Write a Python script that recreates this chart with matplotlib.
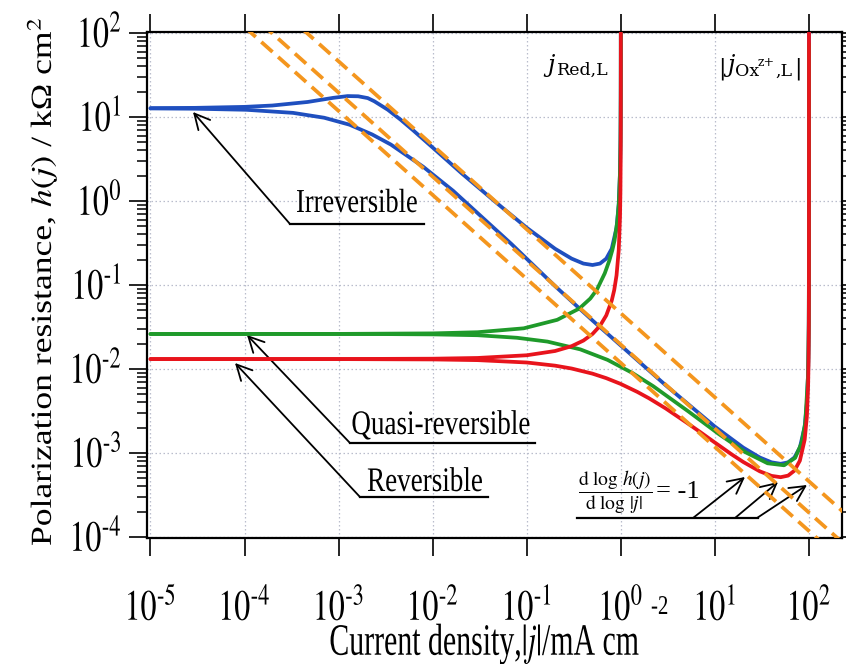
import matplotlib
matplotlib.use("Agg")
import matplotlib.pyplot as plt
from matplotlib.lines import Line2D
from matplotlib.patheffects import AbstractPathEffect
from matplotlib.transforms import Affine2D
from matplotlib.ticker import NullFormatter

# ---------------- data ----------------
# Irreversible, anodic branch (towards j_Red,L)
j_irr_a = [1e-5, 3e-5, 1e-4, 1.97e-4, 4.68e-4, 8.74e-4, 1.247e-3, 1.614e-3, 2.04e-3,
           2.393e-3, 3.337e-3, 4.558e-3, 6.18e-3, 8.355e-3, 1.128e-2, 2.057e-2, 5e-2,
           0.1, 0.2, 0.3, 0.4, 0.5, 0.6, 0.7, 0.8, 0.9, 0.95, 0.98, 0.99, 0.995,
           0.998, 0.999, 0.9995, 0.9998]
h_irr_a = [12.75, 12.85, 13.2, 13.7, 15.1, 16.9, 17.75, 17.65, 16.8,
           15.4, 12.2, 9.3, 6.96, 5.17, 3.84, 2.11, 0.91,
           0.48, 0.27, 0.206, 0.18, 0.173, 0.18, 0.206, 0.27, 0.48, 0.91, 2.2, 4.37, 8.7,
           21.7, 43.0, 87.0, 217.0]

# Irreversible, cathodic branch (towards |j_Ox,L|)
j_irr_c = [1e-5, 3e-5, 1.045e-4, 3.28e-4, 7.03e-4, 1.304e-3, 2.27e-3, 3.59e-3, 7.95e-3,
           1.653e-2, 6.82e-2, 0.2, 0.5, 1, 3, 10, 20, 30, 40, 50, 60, 70, 80, 90, 95,
           98, 99, 99.5, 99.8, 99.9, 99.95, 99.98, 99.99, 99.995, 99.998, 99.9995, 99.9999]
h_irr_c = [12.65, 12.55, 12.19, 11.2, 9.8, 8.1, 6.2, 4.7, 2.55,
           1.32, 0.31, 0.097, 0.0378, 0.019, 0.0064, 0.00206, 0.00116, 0.000884,
           0.000774, 0.000743, 0.000774, 0.000884, 0.00116, 0.00206, 0.0039,
           0.0095, 0.0188, 0.0373, 0.0931, 0.186, 0.371, 0.929, 1.857, 3.71, 9.29, 37.0, 186.0]

# Quasi-reversible, anodic branch
j_qr_a = [1e-5, 1e-3, 1e-2, 3e-2, 0.0929, 0.2108, 0.3624, 0.4737, 0.5578, 0.6753,
          0.7543, 0.812, 0.856, 0.9165, 0.9526, 0.9802, 0.9918, 0.99753, 0.99925, 0.99959]
h_qr_a = [0.0261, 0.02617, 0.02654, 0.0274, 0.0305, 0.0385, 0.0525, 0.0690, 0.0884,
          0.1381, 0.1953, 0.26, 0.337, 0.566, 0.958, 2.23, 5.35, 17.5, 58.0, 106.0]

# Quasi-reversible, cathodic branch
j_qr_c = [1e-5, 1e-3, 3e-3, 1e-2, 3e-2, 0.0786, 0.166, 0.371, 0.723, 1.332, 2.206, 5.214,
          11.01, 21.16, 36.31, 54.42, 71.24, 83.6, 91.26, 97.74, 99.44, 99.932, 99.9917,
          99.999, 99.99975]
h_qr_c = [0.0261, 0.02611, 0.02604, 0.02583, 0.02524, 0.02354, 0.02119, 0.01712, 0.01284,
          0.00895, 0.00625, 0.00313, 0.00168, 0.00102, 0.000754, 0.000714, 0.000874,
          0.00132, 0.00228, 0.0084, 0.0334, 0.274, 2.23, 18.2, 74.0]

# Reversible, anodic branch
j_rev_a = [1e-5, 1e-3, 0.01, 0.03, 0.1, 0.2, 0.3, 0.4, 0.5, 0.6, 0.7, 0.8, 0.85, 0.9,
           0.95, 0.98, 0.99, 0.995, 0.998, 0.999, 0.9995, 0.9998, 0.9999]
h_rev_a = [0.01313, 0.01314, 0.01326, 0.01353, 0.01457, 0.01638, 0.0187, 0.0218, 0.02613,
           0.03263, 0.04346, 0.06513, 0.0868, 0.1301, 0.2601, 0.6501, 1.3, 2.6, 6.5, 13.0,
           26.0, 65.0, 130.0]

# Reversible, cathodic branch
j_rev_c = [1e-5, 1e-3, 0.01, 0.03, 0.1, 0.2, 0.3, 0.5, 0.7, 1, 1.5, 2, 3, 5, 7, 10, 15, 20,
           30, 40, 50, 60, 70, 80, 90, 95, 98, 99, 99.5, 99.8, 99.9, 99.95, 99.98, 99.99,
           99.995, 99.998, 99.999, 99.9995, 99.9998, 99.9999]
h_rev_c = [0.01313, 0.01312, 0.013, 0.01275, 0.01195, 0.01096, 0.01013, 0.0088, 0.00778,
           0.00663, 0.00533, 0.00447, 0.00339, 0.0023, 0.00177, 0.00133, 0.000966, 0.000782,
           0.000605, 0.000534, 0.000515, 0.000538, 0.000616, 0.00081, 0.00144, 0.00273,
           0.00663, 0.0131, 0.0261, 0.0651, 0.13, 0.26, 0.65, 1.3, 2.6, 6.5, 13.0, 26.0,
           65.0, 130.0]

# slope -1 guide lines (end points)
guide_j = [[1e-4, 300.0], [1e-4, 300.0], [1e-4, 300.0]]
guide_h = [[118.0, 3.93e-5], [195.0, 6.5e-5], [460.0, 1.533e-4]]

HY = "\u2010"  # short hyphen used in the exponents
xtick_vals = [1e-5, 1e-4, 1e-3, 1e-2, 1e-1, 1e0, 1e1, 1e2]
xtick_labels = [r"$10^{%s5}$" % HY, r"$10^{%s4}$" % HY, r"$10^{%s3}$" % HY,
                r"$10^{%s2}$" % HY, r"$10^{%s1}$" % HY, r"$10^{0}$", r"$10^{1}$", r"$10^{2}$"]
ytick_vals = [1e-4, 1e-3, 1e-2, 1e-1, 1e0, 1e1, 1e2]
ytick_labels = [r"$10^{%s4}$" % HY, r"$10^{%s3}$" % HY, r"$10^{%s2}$" % HY,
                r"$10^{%s1}$" % HY, r"$10^{0}$", r"$10^{1}$", r"$10^{2}$"]


class Stretch(AbstractPathEffect):
    """Draw text stretched (the reference text is tall and narrow)."""

    def __init__(self, sx=1.0, sy=1.0, dx=0.0, dy=0.0):
        super().__init__()
        self.sx, self.sy, self.dx, self.dy = sx, sy, dx, dy

    def draw_path(self, renderer, gc, tpath, affine, rgbFace=None):
        tr = Affine2D().scale(self.sx, self.sy) + affine + Affine2D().translate(self.dx, self.dy)
        renderer.draw_path(gc, tpath, tr, rgbFace)


# ---------------- style ----------------
plt.rcParams["font.family"] = ["Liberation Serif", "DejaVu Serif"]
plt.rcParams["mathtext.fontset"] = "stix"

W, H = 846, 664
fig = plt.figure(figsize=(W / 100, H / 100), dpi=100)
L, T, R, B = 147, 32, 842, 538
ax = fig.add_axes([L / W, 1 - B / H, (R - L) / W, (B - T) / H])
ax.set_xscale("log")
ax.set_yscale("log")
ax.set_xlim(10 ** -5.037, 10 ** 2.351)
ax.set_ylim(10 ** -4.012, 10 ** 2.012)

blue = "#1f4fbf"
green = "#1f9a2a"
red = "#e8141c"
orange = "#f4961e"
lw = 2.7

ax.plot(j_irr_a, h_irr_a, color=blue, lw=lw, solid_capstyle="round", zorder=3)
ax.plot(j_irr_c, h_irr_c, color=blue, lw=lw, solid_capstyle="round", zorder=3)
ax.plot(j_qr_a, h_qr_a, color=green, lw=lw, solid_capstyle="round", zorder=4)
ax.plot(j_qr_c, h_qr_c, color=green, lw=lw, solid_capstyle="round", zorder=4)
ax.plot(j_rev_a, h_rev_a, color=red, lw=lw, solid_capstyle="round", zorder=5)
ax.plot(j_rev_c, h_rev_c, color=red, lw=lw, solid_capstyle="round", zorder=5)
for gj, gh in zip(guide_j, guide_h):
    ax.plot(gj, gh, color=orange, lw=2.7, dashes=(4.0, 2.0), zorder=6)

ax.set_xticks(xtick_vals)
ax.set_xticklabels(xtick_labels)
ax.set_yticks(ytick_vals)
ax.set_yticklabels(ytick_labels)
ax.tick_params(which="major", direction="out", length=13, width=1.2,
               top=True, right=True, labelsize=23, colors="black")
ax.tick_params(axis="x", which="major", pad=46)
ax.tick_params(axis="y", which="major", pad=5)
ax.tick_params(which="minor", direction="out", length=7.5, width=1.1, top=True, right=True)
ax.xaxis.set_minor_formatter(NullFormatter())
ax.yaxis.set_minor_formatter(NullFormatter())
for s in ax.spines.values():
    s.set_linewidth(1.6)
ax.grid(True, which="major", linestyle=(0, (1.2, 2.0)), color="#b9bdcc", lw=0.9)

for lab in ax.get_xticklabels():
    lab.set_va("baseline")
    lab.set_path_effects([Stretch(sy=1.35)])
for lab in ax.get_yticklabels():
    lab.set_va("baseline")
    lab.set_path_effects([Stretch(sy=1.35, dy=-14)])


def fp(x, y):
    return (x / W, 1 - y / H)


# axis labels
fig.text(*fp(485, 655), r"Current density,$|j|$/mA cm",
         ha="center", va="baseline", fontsize=21.5,
         path_effects=[Stretch(sy=1.5)])
fig.text(*fp(651, 614), "-2", ha="left", va="baseline", fontsize=15,
         path_effects=[Stretch(sy=1.3)])
fig.text(*fp(51, 546), r"Polarization resistance, $h(j)$ / kΩ cm$^{2}$",
         ha="left", va="baseline", rotation=90, rotation_mode="anchor", fontsize=21,
         path_effects=[Stretch(sx=1.22)])


def hline(x0, x1, y):
    fig.add_artist(Line2D([x0 / W, x1 / W], [1 - y / H, 1 - y / H],
                          color="black", lw=1.6, transform=fig.transFigure))


def arrow(x0, y0, x1, y1):
    ax.annotate("", xy=fp(x1, y1), xycoords="figure fraction",
                xytext=fp(x0, y0), textcoords="figure fraction",
                arrowprops=dict(arrowstyle="->,head_length=0.55,head_width=0.28",
                                lw=1.3, color="black", shrinkA=0, shrinkB=0,
                                mutation_scale=20))


st = [Stretch(sy=1.27)]
# labels with leaders
fig.text(*fp(357, 212), "Irreversible", ha="center", va="baseline", fontsize=19,
         path_effects=st)
hline(290, 424, 224)
arrow(290, 224, 193, 112)

fig.text(*fp(441, 434), "Quasi-reversible", ha="center", va="baseline", fontsize=19.5,
         path_effects=st)
hline(350, 535, 443)
arrow(350, 443, 247, 335)

fig.text(*fp(425, 491), "Reversible", ha="center", va="baseline", fontsize=19.5,
         path_effects=st)
hline(360, 488, 497)
arrow(360, 497, 235, 363)

fig.text(*fp(578, 498), r"$\dfrac{\mathrm{d\ log}\ h(j)}{\mathrm{d\ log}\ |j|}$",
         ha="left", va="baseline", fontsize=14)
fig.text(*fp(656, 498), "= -1", ha="left", va="baseline", fontsize=19)
hline(577, 758, 518)
arrow(693, 518, 745, 477)
arrow(735, 518, 778, 482)
arrow(757, 518, 807, 485)

# limiting-current labels
ds = ["DejaVu Serif"]
fig.text(*fp(547, 72), "j", style="italic", family=ds, fontsize=17, ha="left", va="baseline")
fig.text(*fp(557, 75), "Red,L", family=ds, fontsize=12.5, ha="left", va="baseline")
fig.text(*fp(718, 75), "|", family=ds, fontsize=16, ha="left", va="baseline")
fig.text(*fp(727, 72), "j", style="italic", family=ds, fontsize=17, ha="left", va="baseline")
fig.text(*fp(735, 76), "Ox", family=ds, fontsize=12.5, ha="left", va="baseline")
fig.text(*fp(758, 66), "z+", family=ds, fontsize=9, ha="left", va="baseline")
fig.text(*fp(775, 76), ",L", family=ds, fontsize=12.5, ha="left", va="baseline")
fig.text(*fp(794, 75), "|", family=ds, fontsize=16, ha="left", va="baseline")

fig.savefig("out.png", dpi=100)
